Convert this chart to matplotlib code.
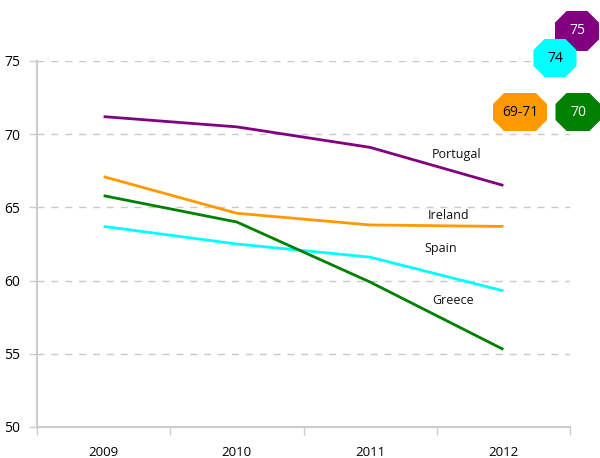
import matplotlib
matplotlib.use("Agg")
import matplotlib.pyplot as plt
from matplotlib.patches import Polygon

plt.rcParams['font.family'] = ['Open Sans', 'DejaVu Sans']

years = ['2009', '2010', '2011', '2012']
portugal = [71.2, 70.5, 69.1, 66.5]
ireland = [67.1, 64.6, 63.8, 63.7]
spain = [63.7, 62.5, 61.6, 59.3]
greece = [65.8, 64.0, 59.9, 55.3]

series = [('Portugal', portugal, '#800080'),
          ('Ireland', ireland, '#ff9900'),
          ('Spain', spain, '#00ffff'),
          ('Greece', greece, '#008000')]

# label positions (x in category units, y in data units)
label_pos = {'Portugal': (2.65, 68.6), 'Ireland': (2.59, 64.45),
             'Spain': (2.53, 62.2), 'Greece': (2.62, 58.65)}

# target badges: text, fill, text colour, centre px, size px
badges = [('75', '#800080', 'white', (577, 31), (44, 40)),
          ('74', '#00ffff', 'black', (555, 58), (43, 38)),
          ('69-71', '#ff9900', 'black', (520, 112), (54, 38)),
          ('70', '#008000', 'white', (578, 112), (45, 38))]

W, H = 600, 458
fig = plt.figure(figsize=(6, 4.58), dpi=100)
ax = fig.add_axes([37 / W, 1 - 427 / H, (570 - 37) / W, (427 - 61) / H])

x = range(len(years))
for name, vals, col in series:
    ax.plot(x, vals, color=col, lw=2, solid_capstyle='butt', zorder=3)
    lx, ly = label_pos[name]
    ax.text(lx, ly, name, fontsize=9, ha='center', va='center', color='#111111')

ax.set_xlim(-0.5, 3.5)
ax.set_ylim(50, 75)
ax.set_yticks([50, 55, 60, 65, 70, 75])
ax.set_xticks(x)
ax.set_xticklabels(years)
ax.set_xticks([-0.5, 0.5, 1.5, 2.5, 3.5], minor=True)
ax.tick_params(axis='x', which='major', length=0, pad=14, labelsize=9.5)
ax.tick_params(axis='x', which='minor', length=6, color='#cccccc', width=1)
ax.tick_params(axis='y', length=6, color='#cccccc', width=1, labelsize=10, pad=6)
ax.yaxis.grid(True, color='#c8c8c8', linestyle=(0, (5, 5)), lw=1)
ax.set_axisbelow(True)
for side in ['top', 'right']:
    ax.spines[side].set_visible(False)
for side in ['left', 'bottom']:
    ax.spines[side].set_color('#cccccc')
    ax.spines[side].set_linewidth(1.5)

for txt, fc, tc, (cx, cy), (w, h) in badges:
    c = min(w, h) * 0.29
    pts = [(-w / 2 + c, h / 2), (w / 2 - c, h / 2), (w / 2, h / 2 - c), (w / 2, -h / 2 + c),
           (w / 2 - c, -h / 2), (-w / 2 + c, -h / 2), (-w / 2, -h / 2 + c), (-w / 2, h / 2 - c)]
    verts = [((cx + px) / W, 1 - (cy - py) / H) for px, py in pts]
    fig.add_artist(Polygon(verts, closed=True, facecolor=fc, edgecolor='none',
                           transform=fig.transFigure, zorder=5))
    fig.text(cx / W, 1 - cy / H, txt, color=tc, fontsize=10, ha='center', va='center', zorder=6)

fig.savefig('out.png', dpi=100)
